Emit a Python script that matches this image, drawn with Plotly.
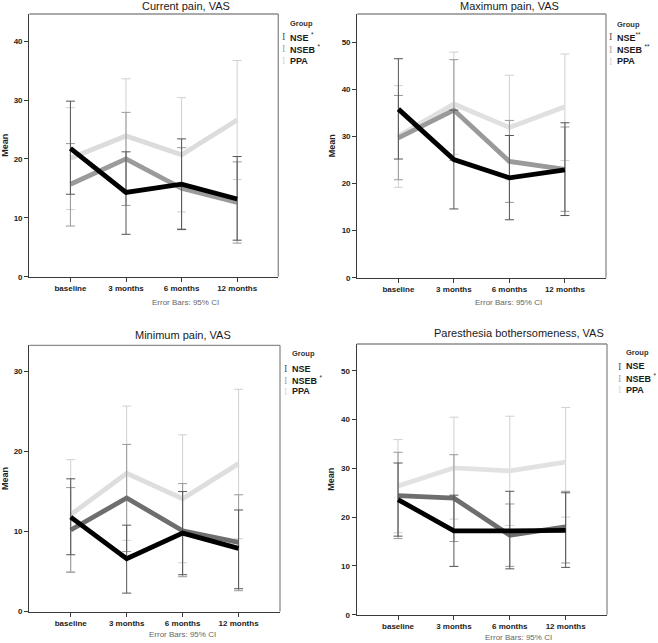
import plotly.graph_objects as go

# ---------------- data ----------------
categories = ["baseline", "3 months", "6 months", "12 months"]
groups = ["NSE", "NSEB", "PPA"]

# Current pain, VAS
cur_nse_mean = [21.8, 14.3, 15.7, 13.2]
cur_nse_lo = [14.0, 7.2, 8.0, 6.2]
cur_nse_hi = [29.8, 21.2, 23.4, 20.4]
cur_nseb_mean = [15.7, 20.0, 15.0, 12.6]
cur_nseb_lo = [8.6, 12.1, 8.1, 5.7]
cur_nseb_hi = [22.6, 27.9, 21.9, 19.5]
cur_ppa_mean = [20.1, 23.9, 20.7, 26.6]
cur_ppa_lo = [11.4, 14.2, 11.0, 16.5]
cur_ppa_hi = [28.7, 33.6, 30.4, 36.7]

# Maximum pain, VAS
max_nse_mean = [35.8, 25.1, 21.2, 22.9]
max_nse_lo = [25.2, 14.6, 12.3, 13.2]
max_nse_hi = [46.5, 35.6, 30.2, 32.9]
max_nseb_mean = [29.7, 35.6, 24.7, 23.0]
max_nseb_lo = [20.8, 24.9, 16.0, 14.1]
max_nseb_hi = [38.7, 46.3, 33.4, 32.0]
max_ppa_mean = [30.1, 36.9, 31.9, 36.3]
max_ppa_lo = [19.2, 26.2, 20.8, 24.9]
max_ppa_hi = [40.8, 47.9, 43.0, 47.5]

# Minimum pain, VAS
min_nse_mean = [11.8, 6.6, 9.8, 7.9]
min_nse_lo = [7.1, 2.3, 4.6, 2.85]
min_nse_hi = [16.6, 10.8, 15.0, 12.7]
min_nseb_mean = [10.2, 14.2, 10.1, 8.65]
min_nseb_lo = [4.9, 7.5, 4.35, 2.6]
min_nseb_hi = [15.5, 20.9, 16.0, 14.6]
min_ppa_mean = [12.1, 17.3, 14.1, 18.5]
min_ppa_lo = [5.0, 8.9, 6.1, 9.1]
min_ppa_hi = [19.0, 25.7, 22.1, 27.8]

# Paresthesia bothersomeness, VAS
par_nse_mean = [23.6, 17.2, 17.2, 17.3]
par_nse_lo = [16.1, 9.9, 9.4, 9.7]
par_nse_hi = [31.1, 24.5, 25.3, 25.0]
par_nseb_mean = [24.4, 23.9, 16.3, 18.0]
par_nseb_lo = [15.6, 15.0, 9.9, 10.6]
par_nseb_hi = [33.3, 32.8, 22.7, 25.3]
par_ppa_mean = [26.4, 30.1, 29.5, 31.3]
par_ppa_lo = [16.8, 19.6, 18.3, 20.0]
par_ppa_hi = [35.9, 40.5, 40.7, 42.5]

titles = ["Current pain, VAS", "Maximum pain, VAS",
          "Minimum pain, VAS", "Paresthesia bothersomeness, VAS"]
legend_labels = [
    ["<b>NSE</b> <sup>*</sup>", "<b>NSEB</b> <sup>*</sup>", "<b>PPA</b>"],
    ["<b>NSE</b><sup>**</sup>", "<b>NSEB</b> <sup>**</sup>", "<b>PPA</b>"],
    ["<b>NSE</b>", "<b>NSEB</b> <sup>*</sup>", "<b>PPA</b>"],
    ["<b>NSE</b>", "<b>NSEB</b> <sup>*</sup>", "<b>PPA</b>"],
]
y_ticks = [0, 10, 20, 30, 40, 50]

panel_data = [
    [(cur_nse_mean, cur_nse_lo, cur_nse_hi), (cur_nseb_mean, cur_nseb_lo, cur_nseb_hi),
     (cur_ppa_mean, cur_ppa_lo, cur_ppa_hi)],
    [(max_nse_mean, max_nse_lo, max_nse_hi), (max_nseb_mean, max_nseb_lo, max_nseb_hi),
     (max_ppa_mean, max_ppa_lo, max_ppa_hi)],
    [(min_nse_mean, min_nse_lo, min_nse_hi), (min_nseb_mean, min_nseb_lo, min_nseb_hi),
     (min_ppa_mean, min_ppa_lo, min_ppa_hi)],
    [(par_nse_mean, par_nse_lo, par_nse_hi), (par_nseb_mean, par_nseb_lo, par_nseb_hi),
     (par_ppa_mean, par_ppa_lo, par_ppa_hi)],
]

# ---------------- layout / style ----------------
W, H = 658, 643
FONT = "Liberation Sans, Arial, sans-serif"


def fx(p):
    return p / W


def fy(p):
    return 1 - p / H


panels = [
    dict(x0=29.3, x1=278.3, y0=14.0, y1=276.7, ymax=44.6, tx=186, ty=6, eby=302,
         lx=283, ly=[23.5, 36.7, 48.7, 60.7]),
    dict(x0=357.3, x1=606.0, y0=14.0, y1=277.7, ymax=56.0, tx=509, ty=6, eby=302,
         lx=610, ly=[24.3, 36.7, 49.0, 61.0]),
    dict(x0=29.3, x1=280.0, y0=345.3, y1=611.5, ymax=33.3, tx=183, ty=335, eby=634,
         lx=285, ly=[353.7, 368.7, 380.0, 391.3]),
    dict(x0=356.7, x1=607.0, y0=344.0, y1=614.7, ymax=55.5, tx=519, ty=333, eby=637,
         lx=619, ly=[352.0, 366.0, 378.0, 389.7]),
]

line_colors = [
    ["#000000", "#9b9b9b", "#dcdcdc"],
    ["#000000", "#9a9a9a", "#e0e0e0"],
    ["#000000", "#6e6e6e", "#dedede"],
    ["#000000", "#6e6e6e", "#e2e2e2"],
]
err_colors = ["#555555", "#999999", "#d0d0d0"]
icon_colors = ["#555555", "#aaaaaa", "#d8d8d8"]

fig = go.Figure()
annotations = []
shapes = []

for i, (p, data) in enumerate(zip(panels, panel_data)):
    n = "" if i == 0 else str(i + 1)
    xa, ya = "x" + n, "y" + n
    # draw PPA first, NSE last (on top)
    for g in [2, 1, 0]:
        mean, lo, hi = data[g]
        fig.add_trace(go.Scatter(
            x=categories, y=mean, mode="lines", xaxis=xa, yaxis=ya,
            line=dict(color=line_colors[i][g], width=4.8),
            error_y=dict(type="data", symmetric=False,
                         array=[h - m for h, m in zip(hi, mean)],
                         arrayminus=[m - l for m, l in zip(mean, lo)],
                         color=err_colors[g], thickness=1, width=4.5),
            showlegend=False, hoverinfo="skip",
        ))
    ax_common = dict(showline=True, linecolor="#3a3a3a", linewidth=1.3,
                     ticks="outside", ticklen=4, tickcolor="#3a3a3a", tickwidth=1,
                     showgrid=False, zeroline=False, automargin=False,
                     tickfont=dict(family=FONT, size=8, color="#222222"))
    fig.update_layout(**{
        "xaxis" + n: dict(domain=[fx(p["x0"]), fx(p["x1"])], anchor=ya,
                          type="category", range=[-0.74, 3.74],
                          tickvals=categories, ticktext=["<b>%s</b>" % c for c in categories],
                          **ax_common),
        "yaxis" + n: dict(domain=[fy(p["y1"]), fy(p["y0"])], anchor=xa,
                          range=[0, p["ymax"]],
                          tickvals=[t for t in y_ticks if t <= p["ymax"]],
                          ticktext=["<b>%d</b>" % t for t in y_ticks if t <= p["ymax"]],
                          title=dict(text="<b>Mean</b>", standoff=4,
                                     font=dict(family=FONT, size=9, color="#222222")),
                          **ax_common),
    })
    # grey frame (top and right edges)
    shapes.append(dict(type="line", xref="paper", yref="paper",
                       x0=fx(p["x0"]), x1=fx(p["x1"]), y0=fy(p["y0"]), y1=fy(p["y0"]),
                       line=dict(color="#8c8c8c", width=1.3), layer="above"))
    shapes.append(dict(type="line", xref="paper", yref="paper",
                       x0=fx(p["x1"]), x1=fx(p["x1"]), y0=fy(p["y0"]), y1=fy(p["y1"]),
                       line=dict(color="#8c8c8c", width=1.3), layer="above"))
    # title
    annotations.append(dict(text=titles[i], x=fx(p["tx"]), y=fy(p["ty"]),
                            xref="paper", yref="paper", showarrow=False,
                            xanchor="center", yanchor="middle",
                            font=dict(family=FONT, size=11, color="#1a1a1a")))
    # error bars note
    annotations.append(dict(text="Error Bars: 95% CI", x=fx(p["tx"] - 1), y=fy(p["eby"]),
                            xref="paper", yref="paper", showarrow=False,
                            xanchor="center", yanchor="middle",
                            font=dict(family=FONT, size=8, color="#666666")))
    # legend
    annotations.append(dict(text="<b>Group</b>", x=fx(p["lx"] + 5), y=fy(p["ly"][0]),
                            xref="paper", yref="paper", showarrow=False,
                            xanchor="left", yanchor="middle",
                            font=dict(family=FONT, size=7.5, color="#333333")))
    for g in range(3):
        annotations.append(dict(text="I", x=fx(p["lx"]), y=fy(p["ly"][g + 1]),
                                xref="paper", yref="paper", showarrow=False,
                                xanchor="center", yanchor="middle",
                                font=dict(family="Liberation Serif, serif", size=10,
                                          color=icon_colors[g])))
        annotations.append(dict(text=legend_labels[i][g], x=fx(p["lx"] + 5), y=fy(p["ly"][g + 1]),
                                xref="paper", yref="paper", showarrow=False,
                                xanchor="left", yanchor="middle",
                                font=dict(family=FONT, size=9, color="#1a1a1a")))

fig.update_layout(width=W, height=H, margin=dict(l=0, r=0, t=0, b=0),
                  paper_bgcolor="white", plot_bgcolor="white",
                  annotations=annotations, shapes=shapes, showlegend=False)

fig.write_html("out.html", config={"displayModeBar": False},
               post_script="document.body.style.margin='0';document.body.style.padding='0';")
